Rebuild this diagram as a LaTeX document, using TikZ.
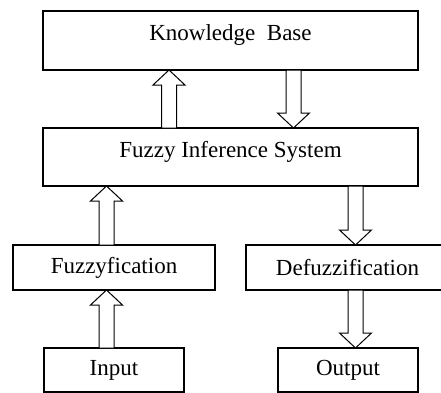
\documentclass[tikz,border=0pt]{standalone}
\usepackage{fontspec}
\setmainfont{Liberation Serif}
\usetikzlibrary{calc}
\tikzset{
  box/.style={draw=black, line width=1.8pt, fill=white, outer sep=0pt, inner sep=0pt,
    font=\fontsize{23}{27}\selectfont, anchor=north west},
  topbox/.style={box, text height=15pt, text depth=15pt},
  arrowline/.style={draw=black, line width=1pt, fill=white, line join=miter},
}
\newcommand\hollowarrow[2]{%
  \draw[arrowline] let \p1=(#1), \p2=(#2), \p3=($(#2)!15pt!(#1)$) in
    (\x1-7.5pt,\y1) -- (\x1-7.5pt,\y3) -- (\x1-16pt,\y3) -- (\x2,\y2)
    -- (\x1+16pt,\y3) -- (\x1+7.5pt,\y3) -- (\x1+7.5pt,\y1) -- cycle;}
\begin{document}
\begin{tikzpicture}[x=1pt,y=-1pt]
\useasboundingbox (0,0) rectangle (441,392);
\clip (0,0) rectangle (441,392);
\fill[white] (0,0) rectangle (441,392);
\node[topbox, minimum width=375pt, minimum height=59pt] (kb) at (43,11) {Knowledge~ Base};
\node[topbox, minimum width=375pt, minimum height=58pt] (fis) at (43,128) {Fuzzy Inference System};
\node[box, minimum width=202pt, minimum height=45pt] (fuz) at (13,245) {Fuzzyfication};
\node[box, minimum width=203pt, minimum height=45pt] (def) at (246,245) {Defuzzification};
\node[box, minimum width=140pt, minimum height=44pt] (in) at (44,348) {Input};
\node[box, minimum width=140pt, minimum height=44pt] (out) at (278,348) {Output};
% connector end points
\coordinate (a1s) at (169,0 |- fis.north);
\coordinate (a1t) at (169,0 |- kb.south);
\coordinate (a2s) at (293.5,0 |- kb.south);
\coordinate (a2t) at (293.5,0 |- fis.north);
\coordinate (a3s) at (106.5,0 |- fuz.north);
\coordinate (a3t) at (106.5,0 |- fis.south);
\coordinate (a4s) at (106.5,0 |- in.north);
\coordinate (a4t) at (106.5,0 |- fuz.south);
\coordinate (a5s) at (355.5,0 |- fis.south);
\coordinate (a5t) at (355.5,0 |- def.north);
\coordinate (a6s) at (355.5,0 |- def.south);
\coordinate (a6t) at (355.5,0 |- out.north);
\hollowarrow{a1s}{a1t}
\hollowarrow{a2s}{a2t}
\hollowarrow{a3s}{a3t}
\hollowarrow{a4s}{a4t}
\hollowarrow{a5s}{a5t}
\hollowarrow{a6s}{a6t}
\end{tikzpicture}
\end{document}
